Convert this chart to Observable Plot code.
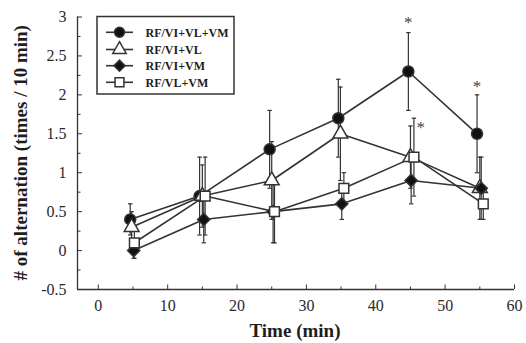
<!DOCTYPE html>
<html>
<head>
<meta charset="utf-8">
<script src="https://cdn.jsdelivr.net/npm/d3@7"></script>
<script src="https://cdn.jsdelivr.net/npm/@observablehq/plot@0.6"></script>
<style>
  html, body { margin: 0; padding: 0; background: #fff; }
  #chart { position: relative; width: 526px; height: 343px; }
</style>
</head>
<body>
<div id="chart"></div>
<script>
// ---- data ----
const seriesNames = ["RF/VI+VL+VM", "RF/VI+VL", "RF/VI+VM", "RF/VL+VM"];
const seriesSymbols = ["circle", "triangle", "diamond2", "square"];
const seriesFills = ["#111", "#fff", "#111", "#fff"];

const xAll  = [4.6, 14.6, 24.7, 34.6, 44.7, 54.6];
const yAll  = [0.4, 0.7, 1.3, 1.7, 2.3, 1.5];
const eAll  = [0.2, 0.5, 0.5, 0.5, 0.5, 0.5];

const xVL   = [4.8, 15.0, 25.0, 34.9, 45.0, 55.0];
const yVL   = [0.3, 0.7, 0.9, 1.5, 1.2, 0.8];
const eVL   = [0.2, 0.4, 0.5, 0.6, 0.4, 0.4];

const xVM   = [5.1, 15.2, 25.2, 35.1, 45.1, 55.2];
const yVM   = [0.0, 0.4, 0.5, 0.6, 0.9, 0.8];
const eVM   = [0.1, 0.3, 0.4, 0.2, 0.3, 0.4];

const xVLVM = [5.2, 15.4, 25.4, 35.4, 45.5, 55.5];
const yVLVM = [0.1, 0.7, 0.5, 0.8, 1.2, 0.6];
const eVLVM = [0.2, 0.5, 0.4, 0.2, 0.5, 0.2];

const starX = [44.7, 54.6, 46.5];
const starY = [2.97, 2.15, 1.62];

const xMajor = [0, 10, 20, 30, 40, 50, 60];
const xMinor = [5, 15, 25, 35, 45, 55];
const yMajor = [-0.5, 0, 0.5, 1, 1.5, 2, 2.5, 3];
const yMinor = [-0.25, 0.25, 0.75, 1.25, 1.75, 2.25, 2.75];
const xDomain = [-3, 60];
const yDomain = [-0.5, 3];

// ---- build table ----
const xs = [xAll, xVL, xVM, xVLVM];
const ys = [yAll, yVL, yVM, yVLVM];
const es = [eAll, eVL, eVM, eVLVM];
const rows = [];
seriesNames.forEach((name, s) => {
  xs[s].forEach((x, i) => rows.push({series: name, s, x, y: ys[s][i], e: es[s][i]}));
});

const capSymbol = { draw(ctx, size) { const w = 2.2; ctx.moveTo(-w, 0); ctx.lineTo(w, 0); } };
const ink = "#333";
const txt = "#1e1e1e";
const W = 526, H = 343;
const mL = 77, mR = 12, mT = 16.5, mB = 54;
const innerW = W - mL - mR, innerH = H - mT - mB;

const chart = Plot.plot({
  width: W, height: H,
  marginLeft: mL, marginRight: mR, marginTop: mT, marginBottom: mB,
  x: {domain: xDomain},
  y: {domain: yDomain},
  style: {fontFamily: "'Liberation Serif', 'Times New Roman', serif", fontSize: "16px", color: "#2a2a2a", background: "#fff"},
  marks: [
    // axis lines
    Plot.ruleX([xDomain[0]], {stroke: ink, strokeWidth: 1.3}),
    Plot.ruleY([yDomain[0]], {stroke: ink, strokeWidth: 1.3}),
    // inward ticks
    Plot.tickX(xMajor, {x: d => d, insetTop: innerH - 4.5, stroke: ink, strokeWidth: 1}),
    Plot.tickX(xMinor, {x: d => d, insetTop: innerH - 2.5, stroke: ink, strokeWidth: 1}),
    Plot.tickY(yMajor, {y: d => d, insetRight: innerW - 5, stroke: ink, strokeWidth: 1}),
    Plot.tickY(yMinor, {y: d => d, insetRight: innerW - 3.5, stroke: ink, strokeWidth: 1}),
    // tick labels
    Plot.axisX({ticks: xMajor, tickFormat: d => String(d), tickSize: 0, tickPadding: 10, label: null, fontSize: 16}),
    Plot.axisY({ticks: yMajor, tickFormat: d => String(d), tickSize: 0, tickPadding: 11, label: null, fontSize: 16}),
    // lines
    Plot.line(rows, {x: "x", y: "y", z: "series", stroke: ink, strokeWidth: 1.6}),
    // error bars
    Plot.ruleX(rows, {x: "x", y1: d => d.y - d.e, y2: d => d.y + d.e, stroke: ink, strokeWidth: 1.2}),
    Plot.dot(rows, {x: "x", y: d => d.y + d.e, symbol: () => capSymbol, r: 2, stroke: ink, strokeWidth: 1.2}),
    Plot.dot(rows, {x: "x", y: d => d.y - d.e, symbol: () => capSymbol, r: 2, stroke: ink, strokeWidth: 1.2}),
    // markers
    Plot.dot(rows, {x: "x", y: "y", symbol: d => seriesSymbols[d.s], fill: d => seriesFills[d.s], stroke: ink, strokeWidth: 1.5, r: 5.5}),
    // significance stars
    Plot.text(starX, {x: (d, i) => d, y: (d, i) => starY[i], text: () => "*", fontSize: 17, dy: 3.5, fill: "#444"})
  ]
});
document.getElementById("chart").appendChild(chart);

// ---- titles and legend (layout only) ----
const svg = d3.select(chart);
const font = "'Liberation Serif', 'Times New Roman', serif";
svg.append("text")
  .attr("transform", `translate(27,${mT + innerH / 2}) rotate(-90)`)
  .attr("text-anchor", "middle")
  .attr("font-family", font).attr("font-size", 19).attr("font-weight", "bold").attr("fill", txt)
  .text("# of alternation (times / 10 min)");
svg.append("text")
  .attr("x", 295).attr("y", 337)
  .attr("text-anchor", "middle")
  .attr("font-family", font).attr("font-size", 19).attr("font-weight", "bold").attr("fill", txt)
  .text("Time (min)");

const lg = svg.append("g");
lg.append("rect").attr("x", 97).attr("y", 16.5).attr("width", 137).attr("height", 77.5)
  .attr("fill", "#fff").attr("stroke", ink).attr("stroke-width", 1.5);
const rowY = [32.3, 49.5, 65.7, 82.3];
const symMap = {circle: d3.symbolCircle, triangle: d3.symbolTriangle, diamond2: d3.symbolDiamond2, square: d3.symbolSquare};
seriesNames.forEach((name, s) => {
  const y = rowY[s];
  lg.append("line").attr("x1", 106).attr("x2", 133).attr("y1", y).attr("y2", y).attr("stroke", ink).attr("stroke-width", 1.6);
  lg.append("path").attr("transform", `translate(119.5,${y})`)
    .attr("d", d3.symbol(symMap[seriesSymbols[s]], Math.PI * 5 * 5)())
    .attr("fill", seriesFills[s]).attr("stroke", ink).attr("stroke-width", 1.5);
  lg.append("text").attr("x", 145.5).attr("y", y + 4.2)
    .attr("text-anchor", "start")
    .attr("font-family", font).attr("font-size", 12).attr("font-weight", "bold").attr("fill", txt)
    .text(name);
});
</script>
</body>
</html>
